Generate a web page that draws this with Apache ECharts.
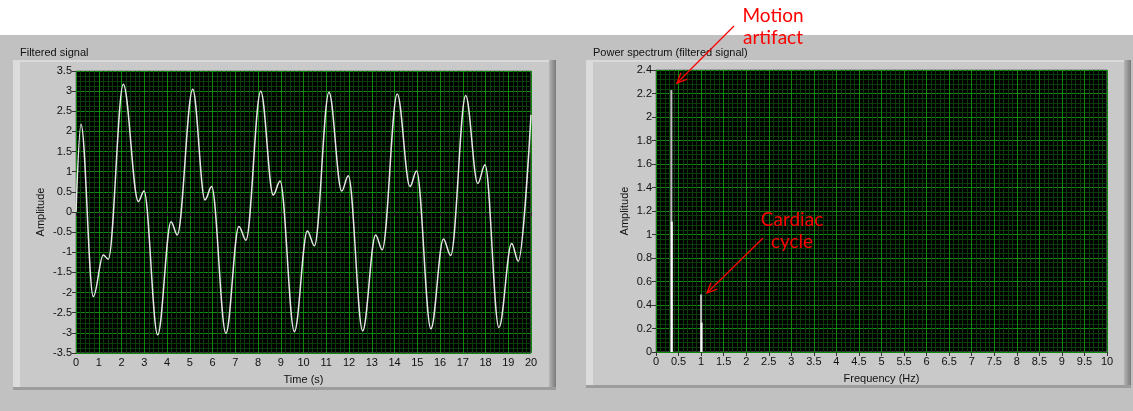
<!DOCTYPE html>
<html>
<head>
<meta charset="utf-8">
<script src="https://cdn.jsdelivr.net/npm/echarts@6/dist/echarts.min.js"></script>
<style>
html,body{margin:0;padding:0;background:#fff;}
#c{width:1133px;height:411px;}
</style>
</head>
<body>
<div id="c"></div>
<script>
// ---- Data ----
const signalTime = [0, 0.22, 0.76, 1.2, 1.42, 2.08, 2.74, 2.99, 3.59, 4.18, 4.45, 5.13, 5.67, 5.96, 6.59, 7.16, 7.47, 8.12, 8.67, 8.97, 9.6, 10.17, 10.48, 11.12, 11.68, 11.97, 12.6, 13.17, 13.46, 14.12, 14.68, 14.97, 15.6, 16.15, 16.47, 17.13, 17.66, 17.98, 18.59, 19.15, 19.44, 20];
const signalAmp = [0, 2.18, -2.1, -1.07, -1.17, 3.17, 0.26, 0.52, -3.05, -0.24, -0.57, 3.05, 0.3, 0.63, -3.01, -0.36, -0.7, 3.0, 0.42, 0.77, -2.97, -0.47, -0.84, 2.97, 0.52, 0.9, -2.95, -0.57, -0.94, 2.93, 0.63, 1.02, -2.9, -0.67, -1.08, 2.89, 0.71, 1.17, -2.87, -0.78, -1.22, 2.41];
const spectrumFreq = [0.34, 0.35, 1.0, 1.01];
const spectrumAmp = [2.23, 1.11, 0.49, 0.25];
const leftTitle = 'Filtered signal';
const rightTitle = 'Power spectrum (filtered signal)';
const annotations = ['Motion\nartifact', 'Cardiac\ncycle'];

const signalData = signalTime.map((t, i) => [t, signalAmp[i]]);
const spectrumData = spectrumFreq.map((f, i) => [f, spectrumAmp[i]]);

const FONT = 'Liberation Sans';
const labelStyle = {color: '#111', fontSize: 11, fontFamily: FONT, margin: 4};
const majorGrid = {show: true, lineStyle: {color: '#0b8a0b', width: 1}};
const minorGrid = {show: true, lineStyle: {color: '#0b3d0b', width: 1}};
const tick = {show: true, length: 4, lineStyle: {color: '#333'}};

function panel(x, y, w, h) {
  return [
    {type: 'rect', z: -10, shape: {x: x, y: y, width: w, height: h}, style: {fill: '#c9c9c9'}},
    {type: 'rect', z: -9, shape: {x: x, y: y, width: 7, height: h}, style: {fill: '#dcdcdc'}},
    {type: 'rect', z: -9, shape: {x: x, y: y, width: w, height: 2}, style: {fill: '#dadada'}},
    {type: 'rect', z: -9, shape: {x: x + w - 7, y: y, width: 7, height: h},
      style: {fill: new echarts.graphic.LinearGradient(0, 0, 1, 0, [{offset: 0, color: '#b5b5b5'}, {offset: 1, color: '#7a7a7a'}])}},
    {type: 'rect', z: -9, shape: {x: x, y: y + h - 3, width: w, height: 3}, style: {fill: '#9c9c9c'}}
  ];
}

function arrow(x1, y1, x2, y2) {
  const ang = Math.atan2(y1 - y2, x1 - x2);
  const L = 11, a = 0.42;
  return [
    {type: 'line', z: 100, shape: {x1: x1, y1: y1, x2: x2, y2: y2}, style: {stroke: '#ff0000', lineWidth: 1.3}},
    {type: 'polyline', z: 100, shape: {points: [
      [x2 + L * Math.cos(ang + a), y2 + L * Math.sin(ang + a)], [x2, y2],
      [x2 + L * Math.cos(ang - a), y2 + L * Math.sin(ang - a)]]},
      style: {stroke: '#ff0000', lineWidth: 1.3, fill: null}}
  ];
}

function note(text, cx, top) {
  return {type: 'text', z: 100, x: cx, y: top,
    style: {text: text, fill: '#ff0000', font: '19px Lato', lineHeight: 22, align: 'center', verticalAlign: 'top'}};
}

const chart = echarts.init(document.getElementById('c'), null, {renderer: 'canvas'});
const option = {
  backgroundColor: '#c1c1c1',
  animation: false,
  graphic: [
    {type: 'rect', z: -10, shape: {x: 0, y: 0, width: 1133, height: 35}, style: {fill: '#ffffff'}},
    ...panel(13, 60, 543, 330),
    ...panel(586, 60, 545, 328),
    {type: 'text', z: 10, left: 20, top: 47, style: {text: leftTitle, fill: '#111', font: '11px ' + FONT}},
    {type: 'text', z: 10, left: 593, top: 47, style: {text: rightTitle, fill: '#111', font: '11px ' + FONT}},
    note(annotations[0], 773, 5),
    note(annotations[1], 792, 209),
    ...arrow(734, 26, 677, 83),
    ...arrow(763, 238, 707, 293)
  ],
  grid: [
    {left: 76, top: 71, width: 455, height: 282, show: true, backgroundColor: '#000', borderColor: '#7a7a7a', borderWidth: 1},
    {left: 656, top: 70, width: 451, height: 282, show: true, backgroundColor: '#000', borderColor: '#7a7a7a', borderWidth: 1}
  ],
  xAxis: [
    {gridIndex: 0, type: 'value', min: 0, max: 20, interval: 1, name: 'Time (s)', nameLocation: 'middle', nameGap: 21,
      nameTextStyle: {color: '#111', fontSize: 11, fontFamily: FONT},
      axisLine: {show: false}, axisTick: tick, axisLabel: labelStyle,
      splitLine: majorGrid, minorTick: {show: false, splitNumber: 5}, minorSplitLine: minorGrid},
    {gridIndex: 1, type: 'value', min: 0, max: 10, interval: 0.5, name: 'Frequency (Hz)', nameLocation: 'middle', nameGap: 21,
      nameTextStyle: {color: '#111', fontSize: 11, fontFamily: FONT},
      axisLine: {show: false}, axisTick: tick, axisLabel: labelStyle,
      splitLine: majorGrid, minorTick: {show: false, splitNumber: 5}, minorSplitLine: minorGrid}
  ],
  yAxis: [
    {gridIndex: 0, type: 'value', min: -3.5, max: 3.5, interval: 0.5, name: 'Amplitude', nameLocation: 'middle', nameGap: 30,
      nameTextStyle: {color: '#111', fontSize: 11, fontFamily: FONT},
      axisLine: {show: false}, axisTick: tick, axisLabel: labelStyle,
      splitLine: majorGrid, minorTick: {show: false, splitNumber: 4}, minorSplitLine: minorGrid},
    {gridIndex: 1, type: 'value', min: 0, max: 2.4, interval: 0.2, name: 'Amplitude', nameLocation: 'middle', nameGap: 26,
      nameTextStyle: {color: '#111', fontSize: 11, fontFamily: FONT},
      axisLine: {show: false}, axisTick: tick, axisLabel: labelStyle,
      splitLine: majorGrid, minorTick: {show: false, splitNumber: 5}, minorSplitLine: minorGrid}
  ],
  series: [
    {type: 'line', xAxisIndex: 0, yAxisIndex: 0, data: signalData, smooth: 0.36, smoothMonotone: 'x',
      showSymbol: false, lineStyle: {color: '#e6e6e6', width: 1.5}, z: 5},
    {type: 'bar', xAxisIndex: 1, yAxisIndex: 1, data: spectrumData, barWidth: 2,
      itemStyle: {color: (p) => (p.dataIndex % 2 === 0 ? '#bdbdbd' : '#ffffff')}, z: 5}
  ]
};
chart.setOption(option);
</script>
</body>
</html>
